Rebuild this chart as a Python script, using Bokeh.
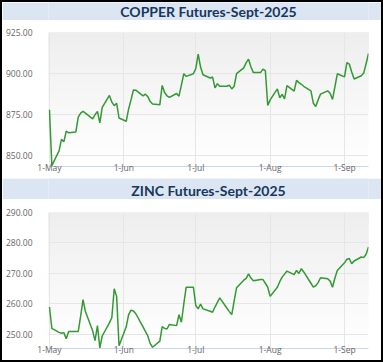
import pandas as pd
from bokeh.plotting import figure
from bokeh.layouts import column
from bokeh.models import Range1d, FixedTicker, BoxAnnotation, Label, PrintfTickFormatter
from bokeh.embed import file_html
from bokeh.resources import INLINE

# ---------------- data ----------------
trade_dates = pd.bdate_range("2025-05-01", "2025-09-11")

copper_close = [
    878, 844, 853, 860, 858.5, 865, 864, 864.5, 873.5, 876, 877, 876, 872.5, 875, 877, 870, 879.5, 886.7, 882.7, 880.5, 882, 873,
    871, 878.5, 884, 890, 889.9, 886.5, 887.5, 886, 883, 881.5, 881, 892.8, 888.5, 886.5, 885.5, 887.9, 886.3, 893, 899.9, 898.3, 899.9,
    903, 911.8, 904, 899.3, 897.3, 897.9, 891.3, 893.9, 892.3, 892.3, 892.9, 890.7, 892.3, 900, 903.5, 906.7, 908.7, 904, 900.6, 900.6, 902.7, 901.8, 880.7,
    884, 890.7, 885.3, 887.3, 884.7, 892.7, 889.3, 895.9, 894.5, 893.5, 892.3, 889.5, 882, 880, 884, 887.5, 889.5, 888, 884.3, 892, 899.9,
    898, 906.7, 905.8, 901, 896.7, 898.7, 900.3, 906, 912.2,
]

zinc_close = [
    259, 252, 250.7, 250.4, 250.6, 248.6, 251, 251, 251, 256, 261.4, 257.5, 251.2, 248, 252.9, 245.6, 249.5, 253.8, 255.5, 265, 262.5, 246.3,
    252.5, 256.5, 258, 257.7, 256.8, 252.5, 251, 249.5, 247, 245.8, 247.8, 252.6, 252, 251.8, 253.3, 252.9, 256.5, 254, 260, 265.5, 265.5,
    259.5, 258.4, 260, 258.4, 257.6, 257.3, 259, 260.5, 262, 258.6, 257.5, 256.5, 261, 265.3, 267.8, 268.4, 269.9, 268.5, 267.6, 268, 268, 266.8, 265.5,
    262.5, 265.5, 267.3, 268.8, 269.8, 270.8, 269.6, 271, 270, 271.6, 270.5, 266.8, 265.5, 266, 267, 268.6, 268.3, 267.5, 265.5, 268.5, 271,
    273.5, 274.7, 274.9, 273.2, 274.1, 275.4, 275.2, 276.3, 278.7,
]

tick_dates = ["2025-05-01", "2025-06-01", "2025-07-01", "2025-08-01", "2025-09-01"]
tick_labels = ["1-May", "1-Jun", "1-Jul", "1-Aug", "1-Sep"]
copper_yticks = [850, 875, 900, 925]
zinc_yticks = [250, 260, 270, 280, 290]
titles = ["COPPER Futures-Sept-2025", "ZINC Futures-Sept-2025"]

# ---------------- helpers ----------------
t0 = trade_dates[0]
xd = [(d - t0).days for d in trade_dates]
tick_x = [(pd.Timestamp(t) - t0).days for t in tick_dates]

W = 379
FONT = "Open Sans"
HEAD_BG = "#dce6f2"


def strip(h, color):
    p = figure(width=W, height=h, x_range=Range1d(0, 1), y_range=Range1d(0, 1),
               output_backend="svg", toolbar_location=None,
               x_axis_location=None, y_axis_location=None,
               min_border=0)
    p.grid.visible = False
    p.background_fill_color = color
    p.border_fill_color = color
    p.outline_line_color = None
    return p


def header(text, h, ty):
    p = strip(h, HEAD_BG)
    p.add_layout(Label(x=0.5, y=ty, text=text, text_align="center", text_baseline="middle",
                       text_font="Lato", text_font_style="bold", text_font_size="14px",
                       text_color="#17375e"))
    return p


def chart(values, yticks, y0, y1, h, left, top, bottom):
    p = figure(width=W, height=h, x_range=Range1d(-0.4, xd[-1]), y_range=Range1d(y0, y1),
               output_backend="svg", toolbar_location=None,
               min_border_left=left, min_border_right=13,
               min_border_top=top, min_border_bottom=bottom)
    p.outline_line_color = None
    p.background_fill_color = "white"
    p.border_fill_color = "white"
    # vertical gradient background (grey at top to white at bottom)
    n = 40
    dy = (y1 - y0) / n
    for i in range(n):
        t = i / (n - 1)
        c = int(round(255 - (255 - 238) * t))
        p.add_layout(BoxAnnotation(bottom=y0 + i * dy, top=y1, fill_color=(c, c, c), fill_alpha=1,
                                   line_color=None, level="image"))
    p.line(xd, values, line_color="#339933", line_width=1.5)

    p.xaxis.ticker = FixedTicker(ticks=tick_x)
    p.xaxis.major_label_overrides = {t: l for t, l in zip(tick_x, tick_labels)}
    p.xaxis.major_label_standoff = -11
    p.xaxis.major_tick_line_color = None
    p.xaxis.minor_tick_line_color = None
    p.xaxis.axis_line_color = "#ccd6eb"
    p.xaxis.major_label_text_font = FONT
    p.xaxis.major_label_text_font_size = "8.5px"
    p.xaxis.major_label_text_color = "#666666"

    p.yaxis.ticker = FixedTicker(ticks=yticks)
    p.yaxis.formatter = PrintfTickFormatter(format="%.2f")
    p.yaxis.major_label_standoff = 10
    p.yaxis.major_tick_line_color = None
    p.yaxis.minor_tick_line_color = None
    p.yaxis.axis_line_color = None
    p.yaxis.major_label_text_font = FONT
    p.yaxis.major_label_text_font_size = "8.5px"
    p.yaxis.major_label_text_color = "#666666"

    p.xgrid.grid_line_color = "#e6e6e6"
    p.ygrid.grid_line_color = "#e6e6e6"
    return p


h1 = header(titles[0], 18, 0.5)
l1 = strip(1, "#8497b0")
c1 = chart(copper_close, copper_yticks, 843.5, 925, 154, 45, 11, 6)
sep = strip(3, "black")
h2 = header(titles[1], 21, 0.45)
l2 = strip(1, "#8497b0")
c2 = chart(zinc_close, zinc_yticks, 245.4, 290, 160, 46, 12, 12)

layout = column(h1, l1, c1, sep, h2, l2, c2, spacing=0, styles={"border": "2px solid black"})

open("out.html", "w").write(file_html(layout, INLINE))
